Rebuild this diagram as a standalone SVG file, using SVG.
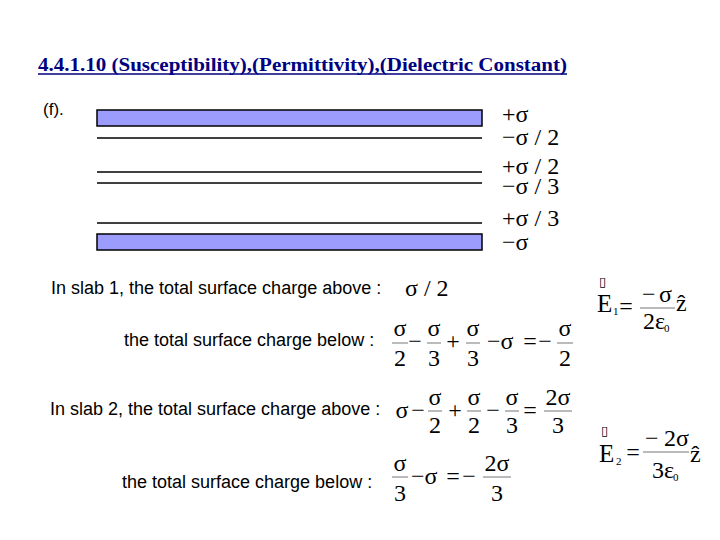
<svg xmlns="http://www.w3.org/2000/svg" width="720" height="540" viewBox="0 0 720 540">
<style>
.title{font-family:"Liberation Serif",serif;font-weight:bold;font-size:18px;fill:#000080}
.t{font-family:"Liberation Sans",Arial,sans-serif;font-size:18px;fill:#000}
.m{font-family:"Liberation Serif","Times New Roman",serif;font-size:24px;fill:#000}
.mc{font-family:"Liberation Serif","Times New Roman",serif;font-size:24px;fill:#000;text-anchor:middle}
.big{font-family:"Liberation Serif","Times New Roman",serif;font-size:25px;fill:#000}
.sub{font-family:"Liberation Serif","Times New Roman",serif;font-size:11px;fill:#000}
.box{font-family:"DejaVu Sans",sans-serif;font-size:13px;fill:#000}
.slab{fill:#9c9cfc;stroke:#000;stroke-width:1.5}
.plate{stroke:#000;stroke-width:1.3}
.bar{stroke:#777;stroke-width:1}
</style>
<rect width="720" height="540" fill="#fff"/>
<g id="title">
<text class="title" x="38" y="71" textLength="529" lengthAdjust="spacingAndGlyphs">4.4.1.10 (Susceptibility),(Permittivity),(Dielectric Constant)</text>
<line x1="38" y1="74" x2="567" y2="74" stroke="#000080" stroke-width="1.3"/>
</g>
<text class="t" x="43" y="115" style="font-size:17px">(f).</text>
<g id="slabs">
<rect class="slab" x="97" y="110" width="385" height="16"/>
<line class="plate" x1="97" y1="138" x2="482" y2="138"/>
<line class="plate" x1="97" y1="172" x2="482" y2="172"/>
<line class="plate" x1="97" y1="183" x2="482" y2="183"/>
<line class="plate" x1="97" y1="223" x2="482" y2="223"/>
<rect class="slab" x="97" y="234" width="385" height="16"/>
</g>
<g id="charges">
<text class="m" x="502" y="122">+σ</text>
<text class="m" x="502" y="145">−σ / 2</text>
<text class="m" x="502" y="174">+σ / 2</text>
<text class="m" x="502" y="194">−σ / 3</text>
<text class="m" x="502" y="226">+σ / 3</text>
<text class="m" x="502" y="250">−σ</text>
</g>
<g id="text">
<text class="t" x="51" y="294">In slab 1, the total surface charge above :</text>
<text class="t" x="124" y="346">the total surface charge below :</text>
<text class="t" x="50" y="415">In slab 2, the total surface charge above :</text>
<text class="t" x="122" y="488">the total surface charge below :</text>
</g>
<g id="eq1">
<text class="m" x="405" y="296">σ / 2</text>
</g>
<g id="eq2">
<text class="mc" x="400" y="336">σ</text><line class="bar" x1="392" y1="343" x2="408" y2="343"/><text class="mc" x="400" y="366">2</text>
<text class="mc" x="415" y="349">−</text>
<text class="mc" x="434" y="336">σ</text><line class="bar" x1="427" y1="343" x2="441" y2="343"/><text class="mc" x="434" y="366">3</text>
<text class="mc" x="453" y="349">+</text>
<text class="mc" x="473" y="336">σ</text><line class="bar" x1="466" y1="343" x2="480" y2="343"/><text class="mc" x="473" y="366">3</text>
<text class="m" x="487" y="349">−σ</text>
<text class="mc" x="530" y="349">=</text>
<text class="mc" x="545" y="349">−</text>
<text class="mc" x="565" y="336">σ</text><line class="bar" x1="557" y1="343" x2="573" y2="343"/><text class="mc" x="565" y="366">2</text>
</g>
<g id="eq3">
<text class="mc" x="402" y="418">σ</text>
<text class="mc" x="418" y="418">−</text>
<text class="mc" x="435" y="405">σ</text><line class="bar" x1="428" y1="411" x2="442" y2="411"/><text class="mc" x="435" y="433">2</text>
<text class="mc" x="455" y="418">+</text>
<text class="mc" x="474" y="405">σ</text><line class="bar" x1="467" y1="411" x2="481" y2="411"/><text class="mc" x="474" y="433">2</text>
<text class="mc" x="493" y="418">−</text>
<text class="mc" x="512" y="405">σ</text><line class="bar" x1="505" y1="411" x2="519" y2="411"/><text class="mc" x="512" y="433">3</text>
<text class="mc" x="530" y="418">=</text>
<text class="mc" x="558" y="405">2σ</text><line class="bar" x1="544" y1="411" x2="572" y2="411"/><text class="mc" x="558" y="433">3</text>
</g>
<g id="eq4">
<text class="mc" x="400" y="471">σ</text><line class="bar" x1="392" y1="477" x2="408" y2="477"/><text class="mc" x="400" y="501">3</text>
<text class="m" x="411" y="484">−σ</text>
<text class="mc" x="453" y="484">=</text>
<text class="mc" x="469" y="484">−</text>
<text class="mc" x="497" y="471">2σ</text><line class="bar" x1="483" y1="477" x2="511" y2="477"/><text class="mc" x="497" y="501">3</text>
</g>
<g id="E1">
<text class="box" x="599" y="286">▯</text>
<text class="big" x="597" y="312">E</text>
<text class="sub" x="613" y="315">1</text>
<text class="mc" x="626" y="314">=</text>
<text class="m" x="642" y="302">−</text>
<text class="m" x="659" y="302">σ</text>
<line class="bar" x1="640" y1="308" x2="675" y2="308"/>
<text class="m" x="643" y="329">2ε</text>
<text class="sub" x="664" y="332">0</text>
<text class="m" x="676" y="311">ẑ</text>
</g>
<g id="E2">
<text class="box" x="601" y="435">▯</text>
<text class="big" x="599" y="462">E</text>
<text class="sub" x="616" y="465">2</text>
<text class="mc" x="633" y="460">=</text>
<text class="m" x="645" y="446">−</text>
<text class="m" x="664" y="446">2σ</text>
<line class="bar" x1="643" y1="452" x2="689" y2="452"/>
<text class="m" x="652" y="478">3ε</text>
<text class="sub" x="673" y="481">0</text>
<text class="m" x="690" y="462">ẑ</text>
</g>
</svg>
